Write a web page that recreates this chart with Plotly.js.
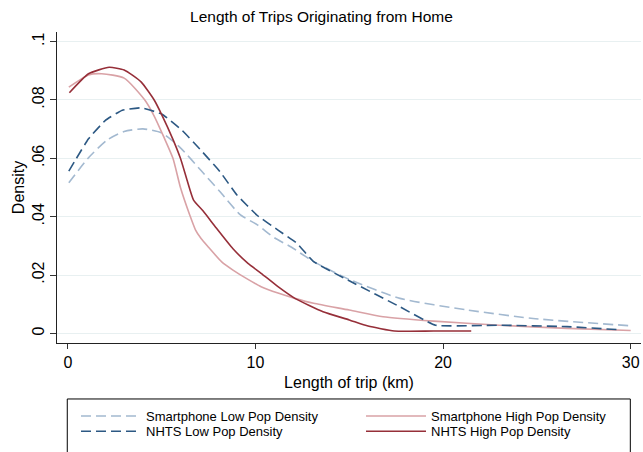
<!DOCTYPE html>
<html>
<head>
<meta charset="utf-8">
<script src="https://cdn.plot.ly/plotly-3.0.1.min.js"></script>
<style>html,body{margin:0;padding:0;background:#fff}#chart{width:643px;height:452px}</style>
</head>
<body>
<div id="chart"></div>
<script>
// Smartphone, low population density
var smartLowX = [0.05, 1.1, 2.1, 3.0, 4.0, 5.0, 6.0, 7.1, 8.1, 9.2, 10.1, 11.0, 11.9, 13.1, 15.0, 17.7, 21.3, 24.8, 30.0];
var smartLowY = [0.0516, 0.0602, 0.0663, 0.0692, 0.0701, 0.0687, 0.0636, 0.0558, 0.0486, 0.0406, 0.0372, 0.0328, 0.0296, 0.0246, 0.0185, 0.0120, 0.0080, 0.0051, 0.0026];
// NHTS, low population density
var nhtsLowX = [0.05, 1.1, 2.0, 2.9, 3.9, 5.0, 6.1, 7.1, 8.1, 9.0, 10.1, 11.2, 12.2, 13.1, 15.1, 17.7, 19.6, 23.0, 26.6, 29.5];
var nhtsLowY = [0.0556, 0.0667, 0.0730, 0.0765, 0.0773, 0.0752, 0.0695, 0.0627, 0.0555, 0.0475, 0.0404, 0.0354, 0.0309, 0.0246, 0.0177, 0.0091, 0.0028, 0.0028, 0.0023, 0.0012];
// Smartphone, high population density
var smartHighX = [0.05, 1.1, 1.8, 3.0, 4.1, 4.6, 5.1, 5.6, 6.0, 6.5, 6.8, 7.1, 7.5, 8.2, 8.8, 9.6, 10.3, 11.2, 12.1, 13.1, 15.0, 16.8, 19.5, 23.0, 26.6, 30.0];
var smartHighY = [0.0844, 0.0886, 0.0890, 0.0875, 0.0800, 0.0745, 0.0675, 0.0600, 0.0500, 0.0405, 0.0355, 0.0325, 0.0295, 0.0245, 0.0217, 0.0185, 0.0160, 0.0138, 0.0120, 0.0103, 0.0080, 0.0057, 0.0042, 0.0028, 0.0017, 0.0010];
// NHTS, high population density
var nhtsHighX = [0.08, 1.1, 2.2, 3.0, 3.9, 4.6, 5.0, 5.6, 6.0, 6.35, 6.7, 7.2, 7.9, 8.8, 9.6, 10.3, 11.2, 12.1, 13.6, 15.0, 16.0, 17.4, 19.5, 21.5];
var nhtsHighY = [0.0825, 0.0890, 0.0912, 0.0903, 0.0862, 0.0800, 0.0750, 0.0665, 0.0600, 0.0526, 0.0457, 0.0420, 0.0362, 0.0290, 0.0240, 0.0206, 0.0160, 0.0120, 0.0074, 0.0046, 0.0025, 0.0008, 0.0008, 0.0008];

var yTickVals = [0, 0.02, 0.04, 0.06, 0.08, 0.1];
var yTickText = ["0", ".02", ".04", ".06", ".08", ".1"];
var xTickVals = [0, 10, 20, 30];

var names = ["Smartphone Low Pop Density", "Smartphone High Pop Density", "NHTS Low Pop Density", "NHTS High Pop Density"];

var FONT = "Liberation Sans, Arial, Helvetica, sans-serif";
var traces = [
  {x: smartLowX, y: smartLowY, name: names[0], legend: "legend", mode: "lines", line: {color: "#a3b9d0", width: 1.6, dash: "10px,5px", shape: "spline", smoothing: 0.6}},
  {x: smartHighX, y: smartHighY, name: names[1], legend: "legend", mode: "lines", line: {color: "#d9a2a6", width: 1.6, shape: "spline", smoothing: 0.6}},
  {x: nhtsLowX, y: nhtsLowY, name: names[2], legend: "legend2", mode: "lines", line: {color: "#2c5883", width: 1.6, dash: "10px,5px", shape: "spline", smoothing: 0.35}},
  {x: nhtsHighX, y: nhtsHighY, name: names[3], legend: "legend2", mode: "lines", line: {color: "#962f39", width: 1.6, shape: "spline", smoothing: 0.5}}
];

var legendCommon = {
  orientation: "h", xref: "container", yref: "container", x: 76 / 643, xanchor: "left", yanchor: "middle",
  entrywidth: 210, entrywidthmode: "pixels", itemwidth: 60,
  font: {size: 13, color: "#000"}, bgcolor: "rgba(0,0,0,0)", borderwidth: 0, traceorder: "normal"
};

var layout = {
  width: 643, height: 452,
  paper_bgcolor: "#fff", plot_bgcolor: "#fff",
  font: {family: FONT, color: "#000"},
  margin: {l: 57, r: 2, t: 32, b: 109, autoexpand: false},
  title: {text: "Length of Trips Originating from Home", font: {size: 15.5, color: "#000"}, x: 0.5, xref: "container", y: 1 - 16.7 / 452, yref: "container", yanchor: "middle"},
  xaxis: {
    range: [-0.58, 30.55], tickvals: xTickVals, ticks: "outside", ticklen: 5, tickcolor: "#333",
    showline: true, linecolor: "#222", linewidth: 1, showgrid: false, zeroline: false, automargin: false,
    tickfont: {size: 16}, title: {text: "Length of trip (km)", font: {size: 16}, standoff: 6}
  },
  yaxis: {
    range: [-0.0033, 0.1033], tickvals: yTickVals, ticktext: yTickText, tickangle: -90,
    ticks: "outside", ticklen: 6, tickcolor: "#333", automargin: false,
    showline: true, linecolor: "#222", linewidth: 1, showgrid: true, gridcolor: "#e8f0f1", gridwidth: 1, zeroline: false,
    tickfont: {size: 16}, title: {text: "Density", font: {size: 16}, standoff: 0}
  },
  showlegend: true,
  legend: Object.assign({}, legendCommon, {y: 1 - 416 / 452}),
  legend2: Object.assign({}, legendCommon, {y: 1 - 431.3 / 452}),
  shapes: [{type: "rect", xref: "paper", yref: "paper", x0: 0.0176, x1: 0.9817, y0: -0.180, y1: -0.45, line: {color: "#000", width: 1}, fillcolor: "rgba(0,0,0,0)", layer: "above"}]
};

Plotly.newPlot("chart", traces, layout, {displayModeBar: false, staticPlot: true});
</script>
</body>
</html>
